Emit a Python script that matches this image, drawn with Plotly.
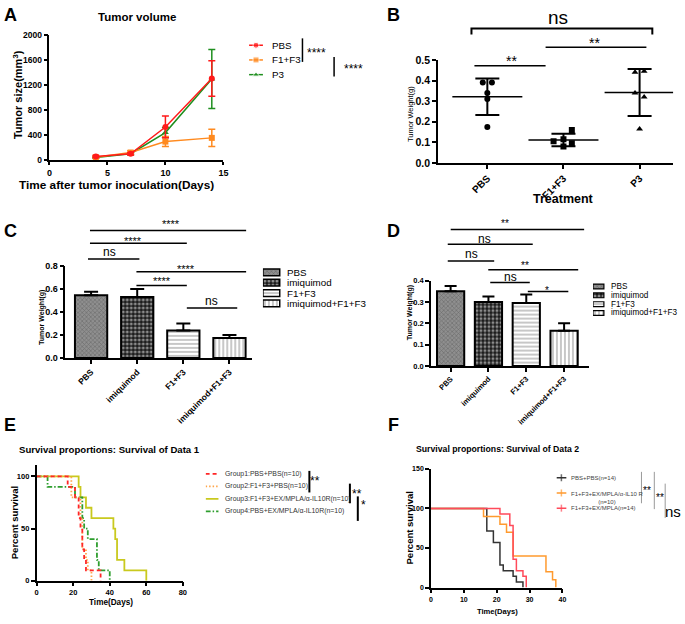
import numpy as np
import plotly.graph_objects as go

W, H = 685, 624
FONT = "Liberation Sans, Arial, sans-serif"

# ---------------- Panel A: tumor volume ----------------
days = [4, 7, 10, 14]
a_series = ["PBS", "F1+F3", "P3"]
a_pbs = [55, 100, 530, 1310]
a_pbs_err = [15, 20, 175, 285]
a_f1f3 = [45, 120, 295, 355]
a_f1f3_err = [10, 30, 80, 140]
a_p3 = [40, 100, 440, 1300]
a_p3_err = [10, 15, 80, 475]
a_xticks = [0, 5, 10, 15]
a_yticks = [0, 400, 800, 1200, 1600, 2000]

# ---------------- Panel B: tumor weight scatter ----------------
b_groups = ["PBS", "F1+F3", "P3"]
b_pbs = [0.39, 0.39, 0.34, 0.31, 0.175]
b_f1f3 = [0.16, 0.115, 0.105, 0.095, 0.08]
b_p3 = [0.44, 0.445, 0.34, 0.32, 0.165]
b_jit_pbs = [-0.06, 0.06, 0.0, 0.0, 0.0]
b_jit_f1f3 = [0.11, 0.0, -0.13, 0.11, 0.0]
b_jit_p3 = [-0.06, 0.06, -0.06, 0.06, 0.0]
b_yticks = [0.0, 0.1, 0.2, 0.3, 0.4, 0.5]

# ---------------- Panels C / D: bar charts ----------------
cd_groups = ["PBS", "imiquimod", "F1+F3", "imiquimod+F1+F3"]
c_vals = [0.545, 0.53, 0.24, 0.175]
c_err = [0.03, 0.07, 0.06, 0.025]
c_yticks = [0.0, 0.2, 0.4, 0.6, 0.8]
d_vals = [0.35, 0.30, 0.295, 0.165]
d_err = [0.025, 0.025, 0.04, 0.035]
d_yticks = [0.0, 0.1, 0.2, 0.3, 0.4]

# ---------------- Panel E: survival data 1 ----------------
e_names = ["Group1:PBS+PBS(n=10)", "Group2:F1+F3+PBS(n=10)",
           "Group3:F1+F3+EX/MPLA/α-IL10R(n=10)", "Group4:PBS+EX/MPLA/α-IL10R(n=10)"]
e_g1_t = [0, 17, 21, 23, 24, 25, 26, 27, 35]
e_g1_s = [100, 90, 80, 60, 50, 30, 20, 10, 0]
e_g2_t = [0, 19, 24, 25, 27, 28, 30]
e_g2_s = [100, 80, 60, 30, 20, 10, 0]
e_g3_t = [0, 23, 24, 27, 30, 42, 43, 44, 48, 60]
e_g3_s = [100, 90, 80, 70, 60, 50, 40, 20, 10, 0]
e_g4_t = [0, 6, 21, 25, 26, 28, 33, 34, 40]
e_g4_s = [100, 90, 80, 60, 50, 40, 20, 10, 0]
e_xticks = [0, 20, 40, 60, 80]
e_yticks = [0, 50, 100]

# ---------------- Panel F: survival data 2 ----------------
f_names = ["PBS+PBS(n=14)", "F1+F3+EX/MPLA/α-IL10 R<br>(n=10)", "F1+F3+EX/MPLA(n=14)"]
f_pbs_t = [0, 17, 19, 21, 22, 25, 26, 28]
f_pbs_s = [100, 71.4, 57.1, 28.6, 21.4, 14.3, 7.1, 0]
f_il_t = [0, 16, 21, 23, 25, 35, 37, 38]
f_il_s = [100, 90, 80, 70, 40, 20, 10, 0]
f_ex_t = [0, 21, 24, 25, 26, 28, 29]
f_ex_s = [100, 92.9, 78.6, 35.7, 21.4, 14.3, 0]
f_xticks = [0, 10, 20, 30, 40]
f_yticks = [0, 50, 100, 150]


# ---------------- helpers ----------------
def PX(x):
    return x / W


def PY(y):
    return 1 - y / H


def dx(x0, x1):
    return [PX(x0), PX(x1)]


def dy(top, bot):
    return [PY(bot), PY(top)]


def font(size, bold=False, color="black"):
    return dict(family=FONT, size=size, color=color, weight=700 if bold else 400)


def axis(**kw):
    base = dict(showline=True, linecolor="black", linewidth=1.5, ticks="outside",
                ticklen=4, tickwidth=1.5, tickcolor="black", showgrid=False,
                zeroline=False, tickfont=font(9, True), fixedrange=True)
    base.update(kw)
    return base


def hidden(**kw):
    base = dict(visible=False, fixedrange=True, showgrid=False, zeroline=False)
    base.update(kw)
    return base


fig = go.Figure()

# ---------------- A traces ----------------
a_colors = {"PBS": "#ff1a1a", "F1+F3": "#ff8a1f", "P3": "#1f8f1f"}
a_symbols = {"PBS": "circle", "F1+F3": "square", "P3": "triangle-up"}
a_data = {"PBS": (a_pbs, a_pbs_err), "F1+F3": (a_f1f3, a_f1f3_err), "P3": (a_p3, a_p3_err)}
for name in ["P3", "F1+F3", "PBS"]:
    vals, errs = a_data[name]
    fig.add_trace(go.Scatter(
        x=days, y=vals, mode="lines+markers", name=name,
        line=dict(color=a_colors[name], width=1.5),
        marker=dict(symbol=a_symbols[name], size=6, color=a_colors[name]),
        error_y=dict(type="data", array=errs, color=a_colors[name], thickness=1.5, width=3.5),
        xaxis="x", yaxis="y", showlegend=False, cliponaxis=False))

# A legend (aux axis 7)
for i, name in enumerate(a_series):
    fig.add_trace(go.Scatter(
        x=[0, 0.5, 1], y=[i, i, i], mode="lines+markers",
        line=dict(color=a_colors[name], width=1.5),
        marker=dict(symbol=a_symbols[name], size=[0, 6, 0], color=a_colors[name]),
        xaxis="x7", yaxis="y7", showlegend=False, hoverinfo="skip"))

# ---------------- B traces ----------------
b_sets = [(b_pbs, b_jit_pbs, "circle"), (b_f1f3, b_jit_f1f3, "square"), (b_p3, b_jit_p3, "triangle-up")]
for i, (vals, jit, sym) in enumerate(b_sets):
    vals = np.array(vals)
    fig.add_trace(go.Scatter(
        x=i + np.array(jit), y=vals, mode="markers",
        marker=dict(symbol=sym, size=6, color="black"),
        xaxis="x2", yaxis="y2", showlegend=False))
    fig.add_trace(go.Scatter(
        x=[i], y=[vals.mean()], mode="markers",
        marker=dict(symbol="line-ew", size=50, color="black", line=dict(color="black", width=1.5)),
        error_y=dict(type="data", array=[vals.std(ddof=1)], color="black", thickness=2, width=12),
        xaxis="x2", yaxis="y2", showlegend=False))

# ---------------- C / D bars ----------------
bar_bg = ["#8f8f8f", "#1a1a1a", "white", "white"]
bar_fg = ["#3a3a3a", "white", "#8a8a8a", "#8a8a8a"]
bar_shape = ["x", ".", "-", "|"]
bar_size = [3, 4, 4, 4]
bar_sol = [0.35, 0.45, 0.3, 0.3]


def bar_marker(lw):
    return dict(color=bar_bg, line=dict(color="black", width=lw),
                pattern=dict(shape=bar_shape, fgcolor=bar_fg, bgcolor=bar_bg,
                             size=bar_size, solidity=bar_sol))


idx = list(range(len(cd_groups)))
fig.add_trace(go.Bar(
    x=idx, y=c_vals, width=0.7, marker=bar_marker(2),
    error_y=dict(type="data", array=c_err, arrayminus=[0] * 4, symmetric=False,
                 color="black", thickness=2, width=7),
    xaxis="x3", yaxis="y3", showlegend=False))
fig.add_trace(go.Bar(
    x=idx, y=d_vals, width=0.72, marker=bar_marker(2),
    error_y=dict(type="data", array=d_err, arrayminus=[0] * 4, symmetric=False,
                 color="black", thickness=2, width=6),
    xaxis="x4", yaxis="y4", showlegend=False))

# bar legends (aux axes 8 and 9)
fig.add_trace(go.Bar(x=[1] * 4, y=idx, orientation="h", width=0.65, marker=bar_marker(1.5),
                     xaxis="x8", yaxis="y8", showlegend=False, hoverinfo="skip"))
fig.add_trace(go.Bar(x=[1] * 4, y=idx, orientation="h", width=0.55, marker=bar_marker(1.2),
                     xaxis="x9", yaxis="y9", showlegend=False, hoverinfo="skip"))

# ---------------- E survival ----------------
e_colors = ["#ff2626", "#ffa54a", "#c9c91e", "#2e9e2e"]
e_dash = ["4px,3px", "1.5px,2px", "solid", "5px,2px,1.5px,2px"]
e_data = [(e_g1_t, e_g1_s), (e_g2_t, e_g2_s), (e_g3_t, e_g3_s), (e_g4_t, e_g4_s)]
for k in [2, 3, 1, 0]:
    t, s = e_data[k]
    fig.add_trace(go.Scatter(
        x=t, y=s, mode="lines", line=dict(color=e_colors[k], width=1.8, dash=e_dash[k], shape="hv"),
        xaxis="x5", yaxis="y5", showlegend=False, cliponaxis=False))
for k in range(4):
    fig.add_trace(go.Scatter(
        x=[0, 1], y=[k, k], mode="lines", line=dict(color=e_colors[k], width=1.8, dash=e_dash[k]),
        xaxis="x10", yaxis="y10", showlegend=False, hoverinfo="skip"))

# ---------------- F survival ----------------
f_colors = ["#333333", "#ff9a2e", "#ff4a5a"]
f_data = [(f_pbs_t, f_pbs_s), (f_il_t, f_il_s), (f_ex_t, f_ex_s)]
for k in [0, 1, 2]:
    t, s = f_data[k]
    fig.add_trace(go.Scatter(
        x=t, y=s, mode="lines", line=dict(color=f_colors[k], width=1.5, shape="hv"),
        xaxis="x6", yaxis="y6", showlegend=False, cliponaxis=False))
for k in range(3):
    fig.add_trace(go.Scatter(
        x=[0, 0.5, 1], y=[k, k, k], mode="lines+markers",
        line=dict(color=f_colors[k], width=1.5),
        marker=dict(symbol="line-ns", size=[0, 5, 0], line=dict(color=f_colors[k], width=1.5)),
        xaxis="x11", yaxis="y11", showlegend=False, hoverinfo="skip"))

# ---------------- layout / axes ----------------
layout = dict(
    width=W, height=H, margin=dict(l=0, r=0, t=0, b=0),
    paper_bgcolor="white", plot_bgcolor="rgba(0,0,0,0)", showlegend=False,
    font=dict(family=FONT, color="black"),
    xaxis=axis(domain=dx(47, 223), range=[0, 15], tickvals=a_xticks, anchor="y", ticklen=3),
    yaxis=axis(domain=dy(30, 157), range=[0, 2000], tickvals=a_yticks, anchor="x", tickfont=font(8.5, True)),
    xaxis2=axis(domain=dx(440, 678), range=[-0.65, 2.44], tickvals=[0, 1, 2], ticktext=b_groups,
                tickangle=-45, anchor="y2", tickfont=font(10, True)),
    yaxis2=axis(domain=dy(55, 160), range=[0, 0.5], tickvals=b_yticks, tickformat=".1f",
                anchor="x2", tickfont=font(10.5, True)),
    xaxis3=axis(domain=dx(63, 252), range=[-0.56, 3.49], tickvals=idx, ticktext=cd_groups,
                tickangle=-45, anchor="y3", tickfont=font(8.5, True)),
    yaxis3=axis(domain=dy(265, 359), range=[0, 0.8], tickvals=c_yticks, tickformat=".1f",
                anchor="x3", tickfont=font(9, True)),
    xaxis4=axis(domain=dx(433, 593), range=[-0.52, 3.66], tickvals=idx, ticktext=cd_groups,
                tickangle=-45, anchor="y4", tickfont=font(7.5, True)),
    yaxis4=axis(domain=dy(280, 367), range=[0, 0.4], tickvals=d_yticks, tickformat=".1f",
                anchor="x4", tickfont=font(7.5, True)),
    xaxis5=axis(domain=dx(34, 182), range=[0, 80], tickvals=e_xticks, anchor="y5", tickfont=font(7.5, True)),
    yaxis5=axis(domain=dy(468, 586), range=[0, 111], tickvals=e_yticks, anchor="x5", tickfont=font(7.5, True)),
    xaxis6=axis(domain=dx(433, 566), range=[0, 40], tickvals=f_xticks, anchor="y6", tickfont=font(7, True)),
    yaxis6=axis(domain=dy(472, 593), range=[0, 150], tickvals=f_yticks, anchor="x6", tickfont=font(7, True)),
    # legend helper axes
    xaxis7=hidden(domain=dx(249, 340), range=[0, 91 / 14], anchor="y7"),
    yaxis7=hidden(domain=dy(32.5, 77.5), range=[2.5, -0.5], anchor="x7"),
    xaxis8=hidden(domain=dx(263, 375), range=[0, 112 / 17], anchor="y8"),
    yaxis8=hidden(domain=dy(266.2, 308.6), range=[3.5, -0.5], anchor="x8"),
    xaxis9=hidden(domain=dx(597, 685), range=[0, 88 / 11], anchor="y9"),
    yaxis9=hidden(domain=dy(281.5, 317.5), range=[3.5, -0.5], anchor="x9"),
    xaxis10=hidden(domain=dx(205, 340), range=[0, 135 / 13], anchor="y10"),
    yaxis10=hidden(domain=dy(470.7, 521.7), range=[3.5, -0.5], anchor="x10"),
    xaxis11=hidden(domain=dx(560, 685), range=[0, 12.5], anchor="y11"),
    yaxis11=hidden(domain=dy(473.25, 519.75), range=[2.5, -0.5], anchor="x11"),
)
fig.update_layout(**layout)

ann = []


def text(t, x, y, size, bold=False, rot=0, color="black", xanchor="center", align="center"):
    if "*" in t:
        y = y + 0.22 * size
    ann.append(dict(text=t, x=PX(x), y=PY(y), xref="paper", yref="paper", showarrow=False,
                    font=font(size, bold, color), textangle=rot, xanchor=xanchor,
                    yanchor="middle", align=align))


shapes = []


def hline(x0, x1, y, w=1.5, color="black"):
    shapes.append(dict(type="line", xref="paper", yref="paper", x0=PX(x0), x1=PX(x1),
                       y0=PY(y), y1=PY(y), line=dict(color=color, width=w)))


def vline(x, y0, y1, w=1.5, color="black"):
    shapes.append(dict(type="line", xref="paper", yref="paper", x0=PX(x), x1=PX(x),
                       y0=PY(y0), y1=PY(y1), line=dict(color=color, width=w)))


# panel letters
for L, x, y in [("A", 8, 9), ("B", 395, 9), ("C", 8, 229), ("D", 395, 229), ("E", 7, 427), ("F", 395, 427)]:
    text(L, x, y, 18, True)

# titles / axis titles
text("Tumor volume", 136, 11, 11.5, True)
text("Tumor size(mm<sup>3</sup>)", 15, 90, 11, True, rot=-90)
text("Time after tumor inoculation(Days)", 115, 182, 11.8, True)
text("Tumor Weight(g)", 413, 110, 7.5, False, rot=-90)
text("Treatment", 567, 197, 12.5, True)
text("Tumor Weight(g)", 39.5, 318, 7, True, rot=-90)
text("Tumor Weight(g)", 412, 313, 7, True, rot=-90)
text("Survival proportions: Survival of Data 1", 108, 452, 9.6, True)
text("Percent survival", 12.5, 527, 9.5, True, rot=-90)
text("Time(Days)", 109, 608, 8.2, True)
text("Survival proportions: Survival of Data 2", 500, 452, 8.7, True)
text("Percent survival", 411.5, 532, 9.5, True, rot=-90)
text("Time(Days)", 500, 617, 7.6, True)

# legends text
for i, n in enumerate(a_series):
    ann.append(dict(text=n, x=1.5, y=i, xref="x7", yref="y7", showarrow=False, xanchor="left",
                    yanchor="middle", font=font(9.8)))
for i, n in enumerate(cd_groups):
    ann.append(dict(text=n, x=1.3, y=i, xref="x8", yref="y8", showarrow=False, xanchor="left",
                    yanchor="middle", font=font(9.8)))
    ann.append(dict(text=n, x=1.45, y=i, xref="x9", yref="y9", showarrow=False, xanchor="left",
                    yanchor="middle", font=font(8.2)))
for i, n in enumerate(e_names):
    ann.append(dict(text=n, x=1.35, y=i, xref="x10", yref="y10", showarrow=False, xanchor="left",
                    yanchor="middle", font=font(6.9, color="#333")))
for i, n in enumerate(f_names):
    yy = i + (0.3 if "<br>" in n else 0)
    ann.append(dict(text=n, x=1.3, y=yy, xref="x11", yref="y11", showarrow=False, xanchor="left",
                    yanchor="middle", align="center", font=font(6, color="#444")))

# significance marks
vline(303, 33, 57); text("****", 317.5, 45, 12)
vline(335, 52, 72); text("****", 355, 62, 12)

shapes.append(dict(type="path", xref="paper", yref="paper",
                   path=f"M {PX(474)},{PY(29)} L {PX(474)},{PY(23)} L {PX(657)},{PY(23)} L {PX(657)},{PY(29)}",
                   line=dict(color="black", width=2)))
text("ns", 562, 12, 19)
hline(549, 651, 42); text("**", 598, 35, 14)
hline(477, 549, 61); text("**", 515, 53, 14)

for x0, x1, y, t, tx, ty, sz in [
    (88, 246, 229, "****", 170, 220, 11), (88, 186, 242, "****", 132, 237, 11),
    (86, 138, 258, "ns", 108, 251, 12), (135, 246, 271, "****", 185, 266, 11),
    (135, 186, 285, "****", 161, 278, 11), (186, 237, 308, "ns", 211, 301, 12),
    (453, 588, 228, "**", 508, 220, 10), (450, 536, 243, "ns", 487, 238, 12),
    (450, 497, 260, "ns", 474, 253, 12), (491, 582, 269, "**", 528, 262, 10),
    (493, 533, 282, "ns", 513, 276, 12), (531, 572, 291, "*", 550, 288, 10)]:
    hline(x0, x1, y)
    text(t, tx, ty, sz)

vline(310, 474, 496, w=2); text("**", 316, 482, 12)
vline(351, 487, 507, w=2); text("**", 358, 495, 12)
vline(359, 500, 525, w=2); text("*", 365, 506, 12)

vline(646, 475, 507, w=1, color="#999"); text("**", 652, 492, 10)
vline(659, 475, 513, w=1, color="#999"); text("**", 665, 499, 10)
vline(670, 487, 522, w=1, color="#999"); text("ns", 678, 515, 15)

fig.update_layout(annotations=ann, shapes=shapes)
fig.write_html("out.html", config={"displayModeBar": False},
               post_script="document.body.style.margin='0';document.body.style.overflow='hidden';")
